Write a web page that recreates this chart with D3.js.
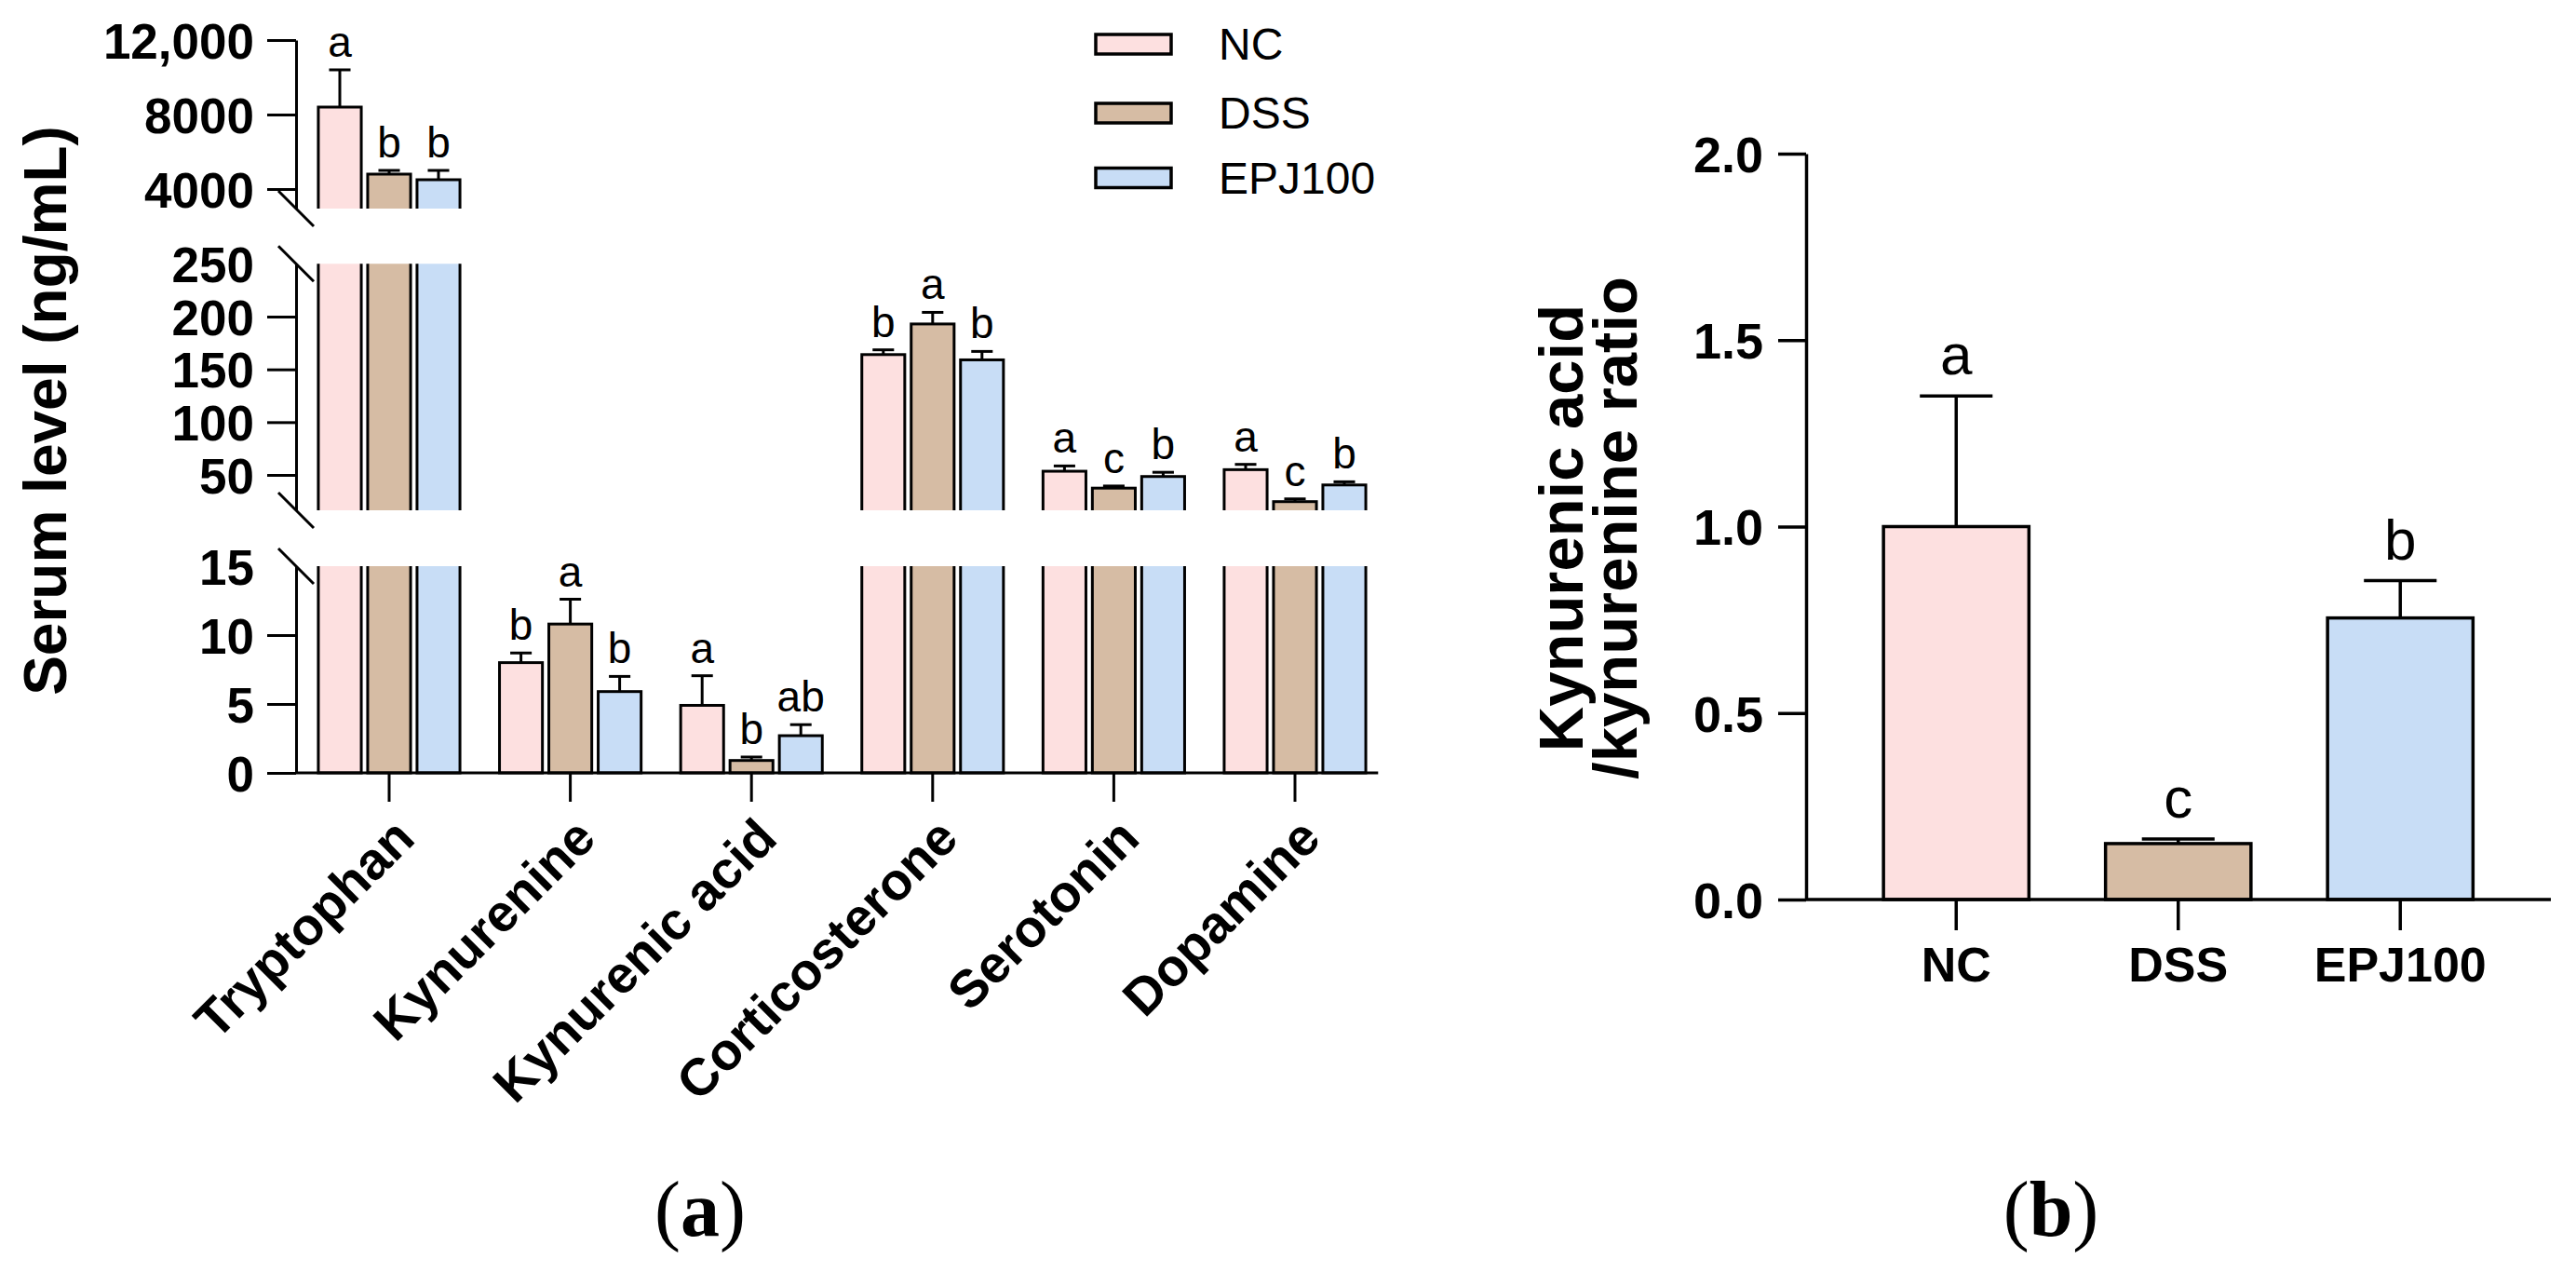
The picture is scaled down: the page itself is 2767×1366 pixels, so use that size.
<!DOCTYPE html>
<html><head><meta charset="utf-8">
<script src="https://cdn.jsdelivr.net/npm/d3@7"></script>
<style>body{margin:0;background:#fff}svg{display:block}</style>
</head><body>
<svg id="chart" width="2767" height="1366"></svg>
<script>
// ---------- data ----------
const categories = ["Tryptophan","Kynurenine","Kynurenic acid","Corticosterone","Serotonin","Dopamine"];
const groups = ["NC","DSS","EPJ100"];
const ncMean  = [8400, 8.0, 4.9, 164, 53.5, 55];
const ncSD    = [2000, 0.7, 2.15, 4.5, 5, 5];
const ncLetters  = ["a","b","a","b","a","a"];
const dssMean = [4800, 10.8, 0.9, 193, 37.5, 24.7];
const dssSD   = [200, 1.8, 0.25, 11, 2, 2.6];
const dssLetters = ["b","a","b","a","c","c"];
const epjMean = [4500, 5.9, 2.7, 159, 48.5, 40.5];
const epjSD   = [500, 1.1, 0.8, 8, 4, 3];
const epjLetters = ["b","b","ab","b","b","b"];

const ratioGroups  = ["NC","DSS","EPJ100"];
const ratioMean    = [1.0, 0.15, 0.755];
const ratioSD      = [0.35, 0.012, 0.1];
const ratioLetters = ["a","c","b"];

const topTicks = [4000, 8000, 12000];
const midTicks = [50, 100, 150, 200, 250];
const lowTicks = [0, 5, 10, 15];
const ratioTicks = [0, 0.5, 1.0, 1.5, 2.0];

const yTitleA = "Serum level (ng/mL)";
const yTitleB = ["Kynurenic acid", "/kynurenine ratio"];
const colors = ["#FDE0E0", "#D6BCA4", "#C8DDF6"];

// ---------- setup ----------
const svg = d3.select("#chart");
const FONT = "'Liberation Sans', Arial, Helvetica, sans-serif";
const means = [ncMean, dssMean, epjMean];
const sds = [ncSD, dssSD, epjSD];
const letters = [ncLetters, dssLetters, epjLetters];

const axisX = 318;
const xBand = d3.scaleBand().domain(categories).range([320.7, 1488.3]);
const xSub = d3.scaleBand().domain(groups).range([-79.5, 79.5]).paddingInner(0.13).paddingOuter(0.065);

const segments = [
  {y: d3.scaleLinear().domain([2950, 12000]).range([224, 43]), ticks: topTicks, noLine: []},
  {y: d3.scaleLinear().domain([16.5, 250]).range([548, 283.3]), ticks: midTicks, noLine: [250]},
  {y: d3.scaleLinear().domain([0, 15]).range([830, 608]), ticks: lowTicks, noLine: [15]}
];
const fmtA = d => d >= 10000 ? d3.format(",")(d) : String(d);

const data = [];
categories.forEach((c, i) => groups.forEach((g, j) => {
  data.push({cat: c, grp: g, j, v: means[j][i], sd: sds[j][i], L: letters[j][i]});
}));

segments.forEach((seg, si) => {
  const y = seg.y;
  const [d0, d1] = y.domain();
  const [r0, r1] = y.range();
  const isLow = si === segments.length - 1;
  const clipId = "clip" + si;
  svg.append("clipPath").attr("id", clipId).append("rect")
    .attr("x", axisX).attr("y", r1).attr("width", 1300).attr("height", r0 - r1 + (isLow ? 3 : 0));
  const g = svg.append("g").attr("clip-path", `url(#${clipId})`);
  const vis = data.filter(d => d.v >= d0);
  g.selectAll("rect.bar").data(vis).join("rect").attr("class", "bar")
    .attr("x", d => xBand(d.cat) + xBand.bandwidth() / 2 + xSub(d.grp))
    .attr("width", xSub.bandwidth())
    .attr("y", d => d.v > d1 ? r1 - 10 : y(d.v))
    .attr("height", d => (isLow ? r0 : r0 + 10) - (d.v > d1 ? r1 - 10 : y(d.v)))
    .attr("fill", d => colors[d.j]).attr("stroke", "#000").attr("stroke-width", 3);
  const errs = data.filter(d => d.v >= d0 && d.v <= d1);
  const cx = d => xBand(d.cat) + xBand.bandwidth() / 2 + xSub(d.grp) + xSub.bandwidth() / 2;
  svg.append("g").selectAll("line.e").data(errs).join("line")
    .attr("x1", cx).attr("x2", cx).attr("y1", d => y(d.v)).attr("y2", d => y(d.v + d.sd))
    .attr("stroke", "#000").attr("stroke-width", 3);
  svg.append("g").selectAll("line.c").data(errs).join("line")
    .attr("x1", d => cx(d) - xSub.bandwidth() / 4).attr("x2", d => cx(d) + xSub.bandwidth() / 4)
    .attr("y1", d => y(d.v + d.sd)).attr("y2", d => y(d.v + d.sd))
    .attr("stroke", "#000").attr("stroke-width", 3);
  svg.append("g").selectAll("text").data(errs).join("text")
    .attr("x", cx).attr("y", d => y(d.v + d.sd) - 14)
    .attr("text-anchor", "middle").attr("font-family", FONT).attr("font-size", 46)
    .text(d => d.L);

  // axis segment
  const ax = svg.append("g").attr("transform", `translate(${axisX},0)`)
    .call(d3.axisLeft(y).tickValues(seg.ticks).tickSize(31).tickSizeOuter(0).tickPadding(14).tickFormat(fmtA));
  ax.select(".domain").attr("stroke-width", 3);
  ax.selectAll(".tick line").attr("stroke-width", 3)
    .attr("display", d => seg.noLine.includes(d) ? "none" : null);
  ax.selectAll(".tick text").attr("font-family", FONT).attr("font-size", 53).attr("font-weight", "bold")
    .attr("fill", "#000").attr("dy", "0.36em");
});

// break marks
const breaks = [segments[0].y.range()[0], segments[1].y.range()[1], segments[1].y.range()[0], segments[2].y.range()[1]];
svg.append("g").selectAll("line").data(breaks).join("line")
  .attr("x1", axisX - 19).attr("y1", d => d - 19).attr("x2", axisX + 19).attr("y2", d => d + 19)
  .attr("stroke", "#000").attr("stroke-width", 3);

// x axis (a)
const y0 = segments[2].y(0);
svg.append("line").attr("x1", axisX).attr("x2", xBand.range()[1] - 8).attr("y1", y0).attr("y2", y0)
  .attr("stroke", "#000").attr("stroke-width", 3);
const xa = svg.append("g").attr("transform", `translate(0,${y0})`)
  .call(d3.axisBottom(xBand).tickSize(31).tickSizeOuter(0));
xa.select(".domain").remove();
xa.selectAll(".tick line").attr("stroke-width", 3);
xa.selectAll(".tick text").attr("font-family", FONT).attr("font-size", 56).attr("font-weight", "bold")
  .attr("fill", "#000").attr("text-anchor", "end").attr("x", 0).attr("y", 0).attr("dy", 0)
  .attr("transform", "translate(30,73) rotate(-45)");

// y title (a)
svg.append("text").attr("transform", "translate(71,441) rotate(-90)")
  .attr("text-anchor", "middle").attr("font-family", FONT).attr("font-size", 64).attr("font-weight", "bold")
  .text(yTitleA);

// legend
const leg = svg.append("g");
groups.forEach((g, j) => {
  const yc = [47.5, 121.5, 191][j];
  leg.append("rect").attr("x", 1177).attr("y", yc - 10.5).attr("width", 81).attr("height", 21)
    .attr("fill", colors[j]).attr("stroke", "#000").attr("stroke-width", 3.5);
  leg.append("text").attr("x", 1309).attr("y", yc).attr("dy", "0.35em")
    .attr("font-family", FONT).attr("font-size", 48).text(g);
});

// ---------- chart (b) ----------
const yR = d3.scaleLinear().domain([0, 2]).range([966, 165]);
const xR = d3.scaleBand().domain(ratioGroups).range([1982, 2697.5]).paddingInner(0.345).paddingOuter(0.1725);
const rData = ratioGroups.map((g, i) => ({g, i, v: ratioMean[i], sd: ratioSD[i], L: ratioLetters[i]}));
const rcx = d => xR(d.g) + xR.bandwidth() / 2;
svg.append("g").selectAll("rect").data(rData).join("rect")
  .attr("x", d => xR(d.g)).attr("width", xR.bandwidth())
  .attr("y", d => yR(d.v)).attr("height", d => yR(0) - yR(d.v))
  .attr("fill", d => colors[d.i]).attr("stroke", "#000").attr("stroke-width", 3.5);
svg.append("g").selectAll("line").data(rData).join("line")
  .attr("x1", rcx).attr("x2", rcx).attr("y1", d => yR(d.v)).attr("y2", d => yR(d.v + d.sd))
  .attr("stroke", "#000").attr("stroke-width", 3.5);
svg.append("g").selectAll("line").data(rData).join("line")
  .attr("x1", d => rcx(d) - xR.bandwidth() / 4).attr("x2", d => rcx(d) + xR.bandwidth() / 4)
  .attr("y1", d => yR(d.v + d.sd)).attr("y2", d => yR(d.v + d.sd))
  .attr("stroke", "#000").attr("stroke-width", 3.5);
svg.append("g").selectAll("text").data(rData).join("text")
  .attr("x", rcx).attr("y", d => yR(d.v + d.sd) - 23)
  .attr("text-anchor", "middle").attr("font-family", FONT).attr("font-size", 62).text(d => d.L);

const ay = svg.append("g").attr("transform", "translate(1940,0)")
  .call(d3.axisLeft(yR).tickValues(ratioTicks).tickSize(30).tickSizeOuter(0).tickPadding(16).tickFormat(d3.format(".1f")));
ay.select(".domain").attr("stroke-width", 3.5);
ay.selectAll(".tick line").attr("stroke-width", 3.5);
ay.selectAll(".tick text").attr("font-family", FONT).attr("font-size", 54).attr("font-weight", "bold")
  .attr("fill", "#000").attr("dy", "0.36em");

svg.append("line").attr("x1", 1940).attr("x2", 2740).attr("y1", yR(0)).attr("y2", yR(0))
  .attr("stroke", "#000").attr("stroke-width", 3.5);
const axb = svg.append("g").attr("transform", `translate(0,${yR(0)})`)
  .call(d3.axisBottom(xR).tickSize(33).tickSizeOuter(0));
axb.select(".domain").remove();
axb.selectAll(".tick line").attr("stroke-width", 3.5);
axb.selectAll(".tick text").attr("font-family", FONT).attr("font-size", 52).attr("font-weight", "bold")
  .attr("fill", "#000").attr("y", 88).attr("dy", 0);

svg.append("g").selectAll("text").data(yTitleB).join("text")
  .attr("transform", (d, i) => `translate(${[1700, 1758][i]},567) rotate(-90)`)
  .attr("text-anchor", "middle").attr("font-family", FONT).attr("font-size", 67).attr("font-weight", "bold")
  .text(d => d);

// panel labels
[["a", 752], ["b", 2203]].forEach(([t, x]) => {
  const tx = svg.append("text").attr("x", x).attr("y", 1327).attr("text-anchor", "middle")
    .attr("font-family", "'Liberation Serif', 'Times New Roman', serif").attr("font-size", 84);
  tx.append("tspan").text("(");
  tx.append("tspan").attr("font-weight", "bold").text(t);
  tx.append("tspan").text(")");
});
</script>
</body></html>
